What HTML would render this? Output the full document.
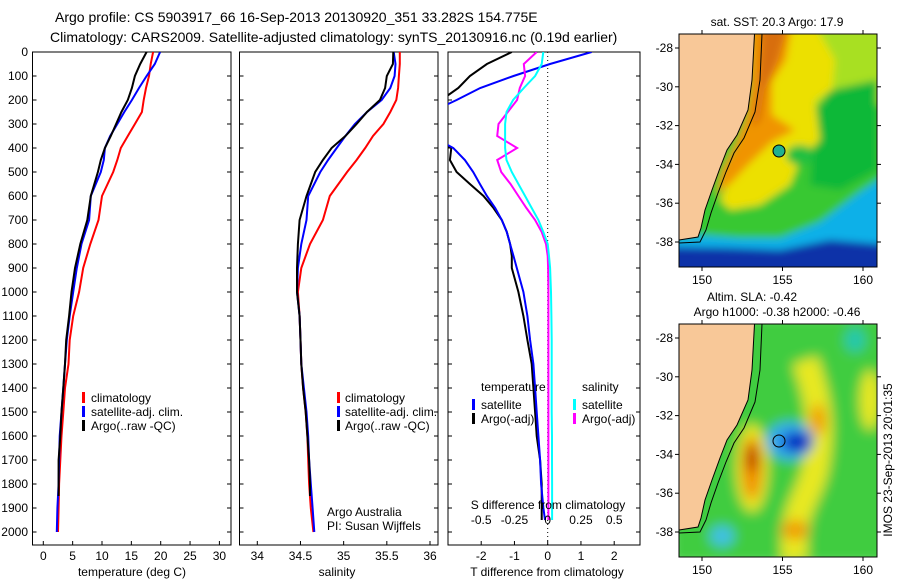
<!DOCTYPE html>
<html><head><meta charset="utf-8">
<style>
html,body{margin:0;padding:0;background:#fff;}
svg{display:block;font-family:"Liberation Sans",sans-serif;}
text{fill:#000;}
</style></head>
<body>
<svg id="fig" width="900" height="580" viewBox="0 0 900 580" xmlns="http://www.w3.org/2000/svg">
<defs>
  <filter id="blur4" x="-20%" y="-20%" width="140%" height="140%"><feGaussianBlur stdDeviation="4"/></filter>
  <filter id="blur6" x="-20%" y="-20%" width="140%" height="140%"><feGaussianBlur stdDeviation="6"/></filter>
  <clipPath id="clipT"><rect x="679" y="34" width="198" height="233"/></clipPath>
  <clipPath id="clipB"><rect x="679" y="324" width="198" height="233"/></clipPath>
  <clipPath id="clipP1"><rect x="32.5" y="52" width="198.5" height="493"/></clipPath>
  <clipPath id="clipP2"><rect x="239.5" y="52" width="198.5" height="493"/></clipPath>
  <clipPath id="clipP3"><rect x="448" y="52" width="192" height="493"/></clipPath>
</defs>
<text x="55" y="22" font-size="14">Argo profile: CS 5903917_66 16-Sep-2013 20130920_351 33.282S 154.775E</text>
<text x="50" y="42" font-size="14">Climatology: CARS2009. Satellite-adjusted climatology: synTS_20130916.nc (0.19d earlier)</text>

<g id="p1"></g>
<g id="p2"></g>
<g id="p3"></g>

<!-- SST map -->
<g>
  <text x="777" y="26" font-size="12" text-anchor="middle">sat. SST: 20.3 Argo: 17.9</text>
  <g clip-path="url(#clipT)">
    <g filter="url(#blur4)">
      <rect x="670" y="25" width="220" height="250" fill="#38c830"/>
      <rect x="800" y="25" width="90" height="80" fill="#a8e020"/>
      <polygon points="830,90 877,80 877,170 840,190 810,185 815,110" fill="#10b838"/>
      <polygon points="760,25 815,25 835,60 832,90 815,100 820,140 800,160 790,185 760,205 730,210 720,200 740,160 760,130 760,100" fill="#ece000"/>
      <polygon points="750,25 792,25 786,60 772,82 772,115 795,130 772,142 748,165 732,182 716,195 722,170 735,145 745,120 750,90" fill="#f09400"/>
      <polygon points="762,25 788,25 778,60 765,90 760,120 752,128 758,90" fill="#d86e08"/>
      <ellipse cx="800" cy="155" rx="14" ry="10" fill="#20c040"/>
      <polygon points="670,238 700,235 740,238 780,238 820,222 860,192 890,172 890,280 670,280" fill="#10b0e8"/>
      <polygon points="670,247 730,248 780,250 830,240 890,245 890,280 670,280" fill="#0830a8"/>
    </g>
    <polygon points="670,25 755,25 752,80 748,110 737,135 727,150 720,168 712,190 705,210 701,228 698,237 679,240 670,240" fill="#f8c898" stroke="#000" stroke-width="1"/>
    <polyline points="762,34 760,80 755,112 744,138 734,153 726,172 718,193 711,213 706,230 700,242 679,243" fill="none" stroke="#000" stroke-width="1"/>
    <circle cx="779" cy="151" r="6" fill="#20b090" stroke="#000" stroke-width="1"/>
  </g>
  <rect x="679" y="34" width="198" height="233" fill="none" stroke="#000" stroke-width="1"/>
  <g id="mapTicksT"></g>
</g>

<!-- SLA map -->
<g>
  <text x="752" y="301" font-size="12" text-anchor="middle">Altim. SLA: -0.42</text>
  <text x="777" y="316" font-size="12" text-anchor="middle">Argo h1000: -0.38 h2000: -0.46</text>
  <g clip-path="url(#clipB)">
    <g filter="url(#blur6)">
      <rect x="670" y="315" width="220" height="250" fill="#40cc40"/>
      <ellipse cx="752" cy="468" rx="16" ry="44" fill="#e8e820"/>
      <ellipse cx="752" cy="468" rx="10" ry="32" fill="#f09000"/>
      <ellipse cx="752" cy="458" rx="6" ry="14" fill="#b82800"/>
      <path d="M805,360 C815,390 825,420 815,470 C808,500 790,510 795,560" fill="none" stroke="#e8e820" stroke-width="26"/>
      <ellipse cx="818" cy="420" rx="8" ry="16" fill="#f0a000"/>
      <ellipse cx="795" cy="530" rx="14" ry="10" fill="#f0a000"/>
      <ellipse cx="870" cy="400" rx="10" ry="30" fill="#e8e820"/>
      <ellipse cx="790" cy="441" rx="24" ry="19" fill="#30a8f0"/>
      <ellipse cx="797" cy="442" rx="15" ry="10" fill="#0020c0"/>
      <ellipse cx="722" cy="536" rx="12" ry="10" fill="#40c0e8"/>
      <ellipse cx="855" cy="340" rx="10" ry="12" fill="#20c8b0"/>
    </g>
    <polygon points="670,315 755,315 752,370 748,400 737,425 727,440 720,458 712,480 705,500 701,518 698,527 679,530 670,530" fill="#f8c898" stroke="#000" stroke-width="1"/>
    <polyline points="762,324 760,370 755,402 744,428 734,443 726,462 718,483 711,503 706,520 700,532 679,533" fill="none" stroke="#000" stroke-width="1"/>
    <circle cx="779" cy="441" r="6" fill="none" stroke="#000" stroke-width="1"/>
  </g>
  <rect x="679" y="324" width="198" height="233" fill="none" stroke="#000" stroke-width="1"/>
  <g id="mapTicksB"></g>
</g>
<text transform="translate(892,460) rotate(-90)" font-size="12" text-anchor="middle">IMOS 23-Sep-2013 20:01:35</text>
</svg>

<script>
// ---- data ----
const depths = [0,50,100,150,200,250,300,350,400,450,500,600,700,800,900,1000,1100,1200,1300,1400,1500,1600,1700,1800,1900,2000];
const tempClim = [18.7,18.3,18.0,17.5,17.1,16.8,15.6,14.4,13.2,12.6,11.9,10.0,9.4,8.0,6.8,6.1,5.1,4.5,4.3,3.7,3.4,3.1,2.9,2.7,2.6,2.5];
const tempSat  = [19.9,19.0,17.6,16.3,15.1,13.8,12.6,11.4,10.5,10.3,9.8,8.1,7.8,6.5,5.7,5.1,4.5,4.0,3.7,3.4,3.1,2.8,2.7,2.6,2.4,2.3];
const argoDepths = [0,50,100,150,200,250,300,350,400,450,500,600,700,800,900,1000,1100,1200,1300,1400,1500,1600,1700,1800,1850];
const tempArgo = [17.6,16.5,15.6,15.1,14.4,13.3,12.4,11.5,10.5,9.8,9.3,8.1,7.5,6.3,5.4,4.8,4.4,3.9,3.7,3.4,3.1,2.9,2.6,2.6,2.6];
const salClim = [35.65,35.65,35.64,35.63,35.61,35.54,35.46,35.34,35.25,35.15,35.04,34.84,34.76,34.61,34.51,34.47,34.49,34.50,34.51,34.53,34.56,34.58,34.59,34.60,34.62,34.65];
const salSat  = [35.58,35.60,35.59,35.54,35.44,35.27,35.13,35.02,34.92,34.82,34.73,34.59,34.57,34.51,34.47,34.46,34.49,34.50,34.51,34.54,34.57,34.59,34.60,34.62,34.64,34.66];
const salArgo = [35.575,35.57,35.50,35.48,35.42,35.27,35.15,35.02,34.86,34.76,34.67,34.57,34.49,34.47,34.46,34.46,34.49,34.50,34.51,34.53,34.56,34.58,34.60,34.61,34.61];
const diffDepths = [0,50,100,150,200,250,300,350,400,450,500,550,600,650,700,750,800,850,900,1000,1100,1200,1300,1400,1500,1600,1700,1800,1900,1950];
const dTsat  = [1.32,0.07,-1.03,-2.03,-2.74,-3.5,-3.5,-3.5,-2.84,-2.49,-2.24,-2.04,-1.83,-1.58,-1.38,-1.23,-1.13,-1.03,-0.93,-0.73,-0.61,-0.53,-0.43,-0.38,-0.33,-0.28,-0.23,-0.20,-0.13,-0.08];
const dTargo = [-1.08,-1.83,-2.34,-2.69,-3.2,-3.5,-3.5,-3.5,-2.9,-2.94,-2.74,-2.34,-1.93,-1.63,-1.38,-1.23,-1.13,-1.08,-1.08,-0.88,-0.73,-0.61,-0.48,-0.43,-0.38,-0.33,-0.23,-0.18,-0.18,-0.18];
const dSsat  = [-0.033,-0.045,-0.095,-0.18,-0.26,-0.31,-0.32,-0.32,-0.32,-0.31,-0.27,-0.22,-0.17,-0.12,-0.07,-0.033,0.0,0.01,0.018,0.025,0.028,0.03,0.03,0.03,0.03,0.032,0.032,0.033,0.033,0.033];
const dSargo = [-0.083,-0.18,-0.17,-0.21,-0.23,-0.30,-0.37,-0.38,-0.23,-0.38,-0.35,-0.28,-0.22,-0.16,-0.095,-0.045,-0.013,0.0,0.003,0.005,0.005,0.005,0.005,0.005,0.005,0.005,0.005,0.005,0.005,0.005];
const depthTicks = [0,100,200,300,400,500,600,700,800,900,1000,1100,1200,1300,1400,1500,1600,1700,1800,1900,2000];
const tempTicks = [0,5,10,15,20,25,30];
const salTicks = [34,34.5,35,35.5,36];
const salTickLabels = ["34","34.5","35","35.5","36"];
const dTTicks = [-2,-1,0,1,2];
const dSTicks = [-0.5,-0.25,0,0.25,0.5];
const dSTickLabels = ["-0.5","-0.25","0","0.25","0.5"];
const lonTicks = [150,155,160];
const latTicks = [-28,-30,-32,-34,-36,-38];

// ---- scales ----
const NS = "http://www.w3.org/2000/svg";
const yD = d => 52 + d * 0.24;
const xT = t => 43.3 + t * 5.87;
const xS = s => 257.3 + (s - 34) * 86.35;
const xDT = t => 547.7 + t * 33.25;
const xDS = s => 547.7 + s * 4 * 33.25;
const lonX = l => 702 + (l - 150) * 16.1;
const latY0 = (l, top) => top + (-28 - l) * 19.4;

function el(tag, attrs, parent){ const e=document.createElementNS(NS,tag); for(const k in attrs) e.setAttribute(k,attrs[k]); parent.appendChild(e); return e; }

function series(parent, xs, ds, xf, color, clip, name){
  const pts = xs.map((v,i)=> xf(v).toFixed(1)+","+yD(ds[i]).toFixed(1)).join(" ");
  const p = el("polyline",{points:pts,fill:"none",stroke:color,"stroke-width":2,"clip-path":"url(#"+clip+")"},parent);
  
  
}

function frame(parent, x0, x1, name){
  const r = el("rect",{x:x0,y:52,width:x1-x0,height:493,fill:"none",stroke:"#000","stroke-width":1},parent);
  
  
  depthTicks.forEach(d=>{
    el("line",{x1:x0,x2:x0+4,y1:yD(d),y2:yD(d),stroke:"#000"},parent);
    el("line",{x1:x1-4,x2:x1,y1:yD(d),y2:yD(d),stroke:"#000"},parent);
  });
}
function xticks(parent, ticks, labels, xf, y, name){
  ticks.forEach((t,i)=>{
    el("line",{x1:xf(t),x2:xf(t),y1:541,y2:545,stroke:"#000"},parent);
    const tx = el("text",{x:xf(t),y:y,"font-size":12,"text-anchor":"middle"},parent);
    tx.textContent = labels[i];
    
    
  });
}
function label(parent, x, y, txt, name, anchor){
  const t = el("text",{x:x,y:y,"font-size":12,"text-anchor":anchor||"start"},parent);
  t.textContent = txt;
  
  
}
function mark(parent, x, y, color, name){
  const r = el("rect",{x:x-1,y:y-6,width:3,height:11,fill:color},parent);
  
  
}

// Panel 1
const p1 = document.getElementById("p1");
frame(p1, 32.5, 231, "temperature-plot-frame");
depthTicks.forEach(d=>label(p1, 28, yD(d)+4, String(d), "depth-tick-label", "end"));
series(p1, tempClim, depths, xT, "#f00", "clipP1", "temp-climatology-line");
series(p1, tempSat, depths, xT, "#00f", "clipP1", "temp-satellite-line");
series(p1, tempArgo, argoDepths, xT, "#000", "clipP1", "temp-argo-line");
xticks(p1, tempTicks, tempTicks.map(String), xT, 560, "temp-tick-label");
label(p1, 132, 576, "temperature (deg C)", "temp-axis-title", "middle");
mark(p1, 83, 398, "#f00", "legend-climatology-mark"); label(p1, 91, 402, "climatology", "legend-climatology");
mark(p1, 83, 412, "#00f", "legend-satellite-mark"); label(p1, 91, 416, "satellite-adj. clim.", "legend-satellite");
mark(p1, 83, 426, "#000", "legend-argo-mark"); label(p1, 91, 430, "Argo(..raw -QC)", "legend-argo");

// Panel 2
const p2 = document.getElementById("p2");
frame(p2, 239.5, 438, "salinity-plot-frame");
series(p2, salClim, depths, xS, "#f00", "clipP2", "sal-climatology-line");
series(p2, salSat, depths, xS, "#00f", "clipP2", "sal-satellite-line");
series(p2, salArgo, argoDepths, xS, "#000", "clipP2", "sal-argo-line");
xticks(p2, salTicks, salTickLabels, xS, 560, "sal-tick-label");
label(p2, 337, 576, "salinity", "sal-axis-title", "middle");
mark(p2, 338, 398, "#f00", "legend-climatology-mark"); label(p2, 345, 402, "climatology", "legend-climatology");
mark(p2, 338, 412, "#00f", "legend-satellite-mark"); label(p2, 345, 416, "satellite-adj. clim.", "legend-satellite");
mark(p2, 338, 426, "#000", "legend-argo-mark"); label(p2, 345, 430, "Argo(..raw -QC)", "legend-argo");
label(p2, 327, 516, "Argo Australia", "credit-argo-australia");
label(p2, 327, 530, "PI: Susan Wijffels", "credit-pi");

// Panel 3
const p3 = document.getElementById("p3");
frame(p3, 448, 640, "difference-plot-frame");
el("line",{x1:xDT(0),x2:xDT(0),y1:52,y2:545,stroke:"#000","stroke-dasharray":"1,3"},p3);
series(p3, dTargo, diffDepths, xDT, "#000", "clipP3", "dT-argo-line");
series(p3, dTsat, diffDepths, xDT, "#00f", "clipP3", "dT-satellite-line");
series(p3, dSargo, diffDepths, xDS, "#f0f", "clipP3", "dS-argo-line");
series(p3, dSsat, diffDepths, xDS, "#0ff", "clipP3", "dS-satellite-line");
xticks(p3, dTTicks, dTTicks.map(String), xDT, 560, "dT-tick-label");
dSTicks.forEach((s,i)=>label(p3, xDS(s), 524, dSTickLabels[i], "dS-tick-label", "middle"));
label(p3, 548, 509, "S difference from climatology", "dS-axis-title", "middle");
label(p3, 547, 576, "T difference from climatology", "dT-axis-title", "middle");
label(p3, 481, 391, "temperature", "legend-temperature-heading");
label(p3, 582, 391, "salinity", "legend-salinity-heading");
mark(p3, 473, 405, "#00f", "legend-t-satellite-mark"); label(p3, 481, 409, "satellite", "legend-t-satellite");
mark(p3, 473, 419, "#000", "legend-t-argo-mark"); label(p3, 481, 423, "Argo(-adj)", "legend-t-argo");
mark(p3, 574, 405, "#0ff", "legend-s-satellite-mark"); label(p3, 582, 409, "satellite", "legend-s-satellite");
mark(p3, 574, 419, "#f0f", "legend-s-argo-mark"); label(p3, 582, 423, "Argo(-adj)", "legend-s-argo");

// Map ticks
function mapTicks(g, top, bottom){
  lonTicks.forEach(l=>{
    el("line",{x1:lonX(l),x2:lonX(l),y1:bottom,y2:bottom+4,stroke:"#000"},g);
    el("line",{x1:lonX(l),x2:lonX(l),y1:top-4,y2:top,stroke:"#000"},g);
    label(g, lonX(l), bottom+17, String(l), "lon-tick-label", "middle");
  });
  latTicks.forEach(l=>{
    const y = latY0(l, top+14);
    el("line",{x1:675,x2:679,y1:y,y2:y,stroke:"#000"},g);
    el("line",{x1:877,x2:881,y1:y,y2:y,stroke:"#000"},g);
    label(g, 673, y+4, String(l), "lat-tick-label", "end");
  });
}
mapTicks(document.getElementById("mapTicksT"), 34, 267);
mapTicks(document.getElementById("mapTicksB"), 324, 557);
</script>
</body></html>
